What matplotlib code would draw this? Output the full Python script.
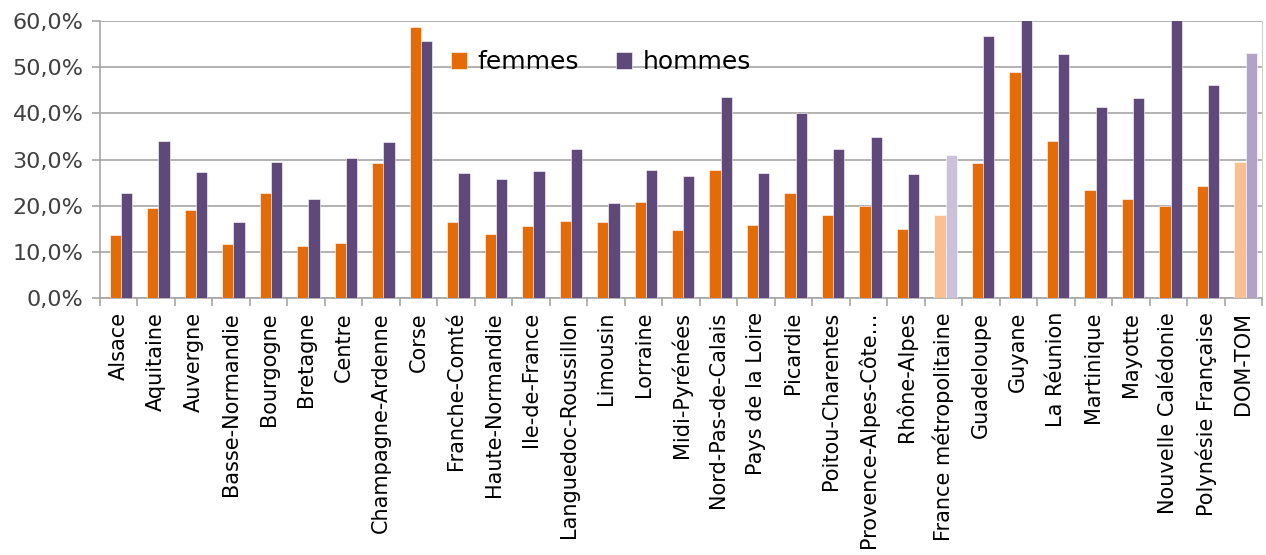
import matplotlib.pyplot as plt
import numpy as np
from matplotlib.ticker import FuncFormatter, FixedLocator

plt.rcParams['font.family'] = ['DejaVu Sans']

regions = ['Alsace', 'Aquitaine', 'Auvergne', 'Basse-Normandie', 'Bourgogne',
           'Bretagne', 'Centre', 'Champagne-Ardenne', 'Corse', 'Franche-Comté',
           'Haute-Normandie', 'Ile-de-France', 'Languedoc-Roussillon', 'Limousin',
           'Lorraine', 'Midi-Pyrénées', 'Nord-Pas-de-Calais', 'Pays de la Loire',
           'Picardie', 'Poitou-Charentes', 'Provence-Alpes-Côte…', 'Rhône-Alpes',
           'France métropolitaine', 'Guadeloupe', 'Guyane', 'La Réunion',
           'Martinique', 'Mayotte', 'Nouvelle Calédonie', 'Polynésie Française',
           'DOM-TOM']
femmes = [13.7, 19.5, 19.0, 11.8, 22.8, 11.2, 12.0, 29.2, 58.7, 16.4,
          13.9, 15.6, 16.7, 16.4, 20.9, 14.8, 27.8, 15.9, 22.8, 18.0,
          20.0, 15.0, 18.0, 29.2, 49.0, 34.1, 23.3, 21.4, 20.0, 24.2, 29.4]
hommes = [22.8, 34.0, 27.3, 16.5, 29.5, 21.5, 30.4, 33.7, 55.7, 27.0,
          25.7, 27.6, 32.3, 20.6, 27.8, 26.4, 43.6, 27.0, 40.0, 32.2,
          34.8, 26.8, 30.9, 56.7, 63.0, 52.8, 41.4, 43.4, 63.0, 46.1, 53.1]

f_col = ['#E36C09'] * len(regions)
h_col = ['#5F497A'] * len(regions)
f_col[22] = '#FAC090'
h_col[22] = '#CCC1DA'
f_col[30] = '#FAC090'
h_col[30] = '#B3A2C7'

fig = plt.figure(figsize=(12.66, 5.55), dpi=100)
ax = fig.add_axes([100/1266, 1 - 298/555, 1162/1266, 277/555])

x = np.arange(len(regions))
w = 0.3
ax.bar(x - w/2 + 0.06, femmes, w, color=f_col, label='femmes', zorder=3,
       edgecolor='white', linewidth=0.4)
ax.bar(x + w/2 + 0.06, hommes, w, color=h_col, label='hommes', zorder=3,
       edgecolor='white', linewidth=0.4)

ax.set_xlim(-0.5, len(regions) - 0.5)
ax.set_ylim(0, 60)
ax.set_yticks(np.arange(0, 61, 10))
ax.yaxis.set_major_formatter(FuncFormatter(lambda v, p: f'{v:.1f}%'.replace('.', ',')))
ax.yaxis.grid(True, color='#A6A6A6', linewidth=1.2, zorder=0)
ax.tick_params(axis='y', length=6, width=1.2, color='#A6A6A6', labelsize=16,
               pad=6, labelcolor='#404040')

ax.set_xticks(x)
ax.set_xticklabels(regions, rotation=90, fontsize=15)
ax.tick_params(axis='x', which='major', length=0, pad=10)
ax.xaxis.set_minor_locator(FixedLocator(np.arange(-0.5, len(regions), 1)))
ax.tick_params(axis='x', which='minor', length=6, color='#A6A6A6', width=1.2)

ax.spines['top'].set_visible(False)
for s in ['left', 'bottom', 'right']:
    ax.spines[s].set_color('#A6A6A6')
    ax.spines[s].set_linewidth(1.2)
ax.spines['right'].set_linewidth(0.8)
ax.spines['right'].set_color('#D0D0D0')

ax.legend(loc='upper left', bbox_to_anchor=(0.302, 0.894), ncol=2, frameon=False,
          fontsize=18, handlelength=0.65, handleheight=0.65, columnspacing=1.5,
          handletextpad=0.4, borderpad=0, borderaxespad=0)

fig.savefig('out.png', dpi=100)
